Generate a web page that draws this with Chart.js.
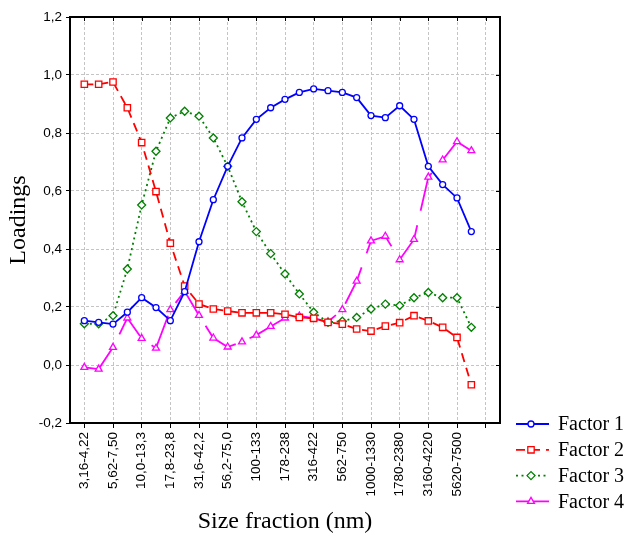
<!DOCTYPE html>
<html>
<head>
<meta charset="utf-8">
<script src="https://cdn.jsdelivr.net/npm/chart.js@4.4.1/dist/chart.umd.min.js"></script>
<style>
  html, body { margin: 0; padding: 0; background: #fff; }
  canvas { display: block; }
</style>
</head>
<body>
<canvas id="loadingsChart" width="628" height="536"></canvas>
<script>
// Classes granulométriques (nm)
const categories = [
    '3,16-4,22', '4,22-5,62', '5,62-7,50', '7,50-10,0', '10,0-13,3', '13,3-17,8',
    '17,8-23,8', '23,8-31,6', '31,6-42,2', '42,2-56,2', '56,2-75,0', '75,0-100',
    '100-133', '133-178', '178-238', '238-316', '316-422', '422-562',
    '562-750', '750-1000', '1000-1330', '1330-1780', '1780-2380', '2380-3160',
    '3160-4220', '4220-5620', '5620-7500', '7500-10000'
];

const factor1 = [0.153, 0.147, 0.141, 0.182, 0.232, 0.198, 0.153, 0.253, 0.425, 0.57, 0.685, 0.783, 0.847, 0.887,
                 0.916, 0.94, 0.952, 0.946, 0.94, 0.922, 0.86, 0.853, 0.894, 0.847, 0.685, 0.622, 0.576, 0.46];
const factor2 = [0.968, 0.968, 0.976, 0.887, 0.767, 0.598, 0.42, 0.272, 0.21, 0.193, 0.186, 0.18, 0.18, 0.18,
                 0.175, 0.164, 0.161, 0.147, 0.141, 0.124, 0.117, 0.134, 0.146, 0.17, 0.152, 0.13, 0.095, -0.068];
const factor3 = [0.142, 0.142, 0.17, 0.331, 0.552, 0.737, 0.852, 0.875, 0.858, 0.783, 0.685, 0.563, 0.46, 0.384,
                 0.314, 0.245, 0.182, 0.147, 0.151, 0.164, 0.193, 0.21, 0.205, 0.232, 0.25, 0.232, 0.232, 0.13];
const factor4 = [-0.008, -0.014, 0.061, 0.162, 0.092, 0.058, 0.191, 0.254, 0.171, 0.093, 0.062, 0.08, 0.103, 0.133,
                 0.162, 0.169, 0.162, 0.149, 0.191, 0.289, 0.428, 0.444, 0.363, 0.433, 0.648, 0.707, 0.77, 0.739];

const seriesLabels = ['Factor 1', 'Factor 2', 'Factor 3', 'Factor 4'];

const yTicks = [-0.2, 0, 0.2, 0.4, 0.6, 0.8, 1.0, 1.2];

function toPoints(values) {
    return values.map((v, i) => ({ x: i, y: v }));
}

function makeDataset(label, values, color, dash, style, radius) {
    return {
        label: label,
        data: toPoints(values),
        borderColor: color,
        borderWidth: 1.8,
        borderDash: dash,
        pointStyle: style,
        pointRadius: radius,
        pointBorderWidth: 1.3,
        pointBorderColor: color,
        pointBackgroundColor: '#fff',
        tension: 0,
        fill: false
    };
}

// Cadre haut / droite avec petites graduations vers l'intérieur
const framePlugin = {
    id: 'frame',
    afterDatasetsDraw(chart) {
        const { ctx, chartArea: a, scales } = chart;
        ctx.save();
        ctx.strokeStyle = '#000';
        ctx.lineWidth = 2;
        ctx.beginPath();
        ctx.moveTo(a.left, a.top);
        ctx.lineTo(a.right, a.top);
        ctx.lineTo(a.right, a.bottom);
        ctx.stroke();
        ctx.lineWidth = 1;
        ctx.beginPath();
        scales.y.ticks.forEach(t => {
            const y = Math.round(scales.y.getPixelForValue(t.value)) + 0.5;
            ctx.moveTo(a.right - 4, y);
            ctx.lineTo(a.right, y);
        });
        scales.x.ticks.forEach(t => {
            const x = Math.round(scales.x.getPixelForValue(t.value)) + 0.5;
            ctx.moveTo(x, a.top);
            ctx.lineTo(x, a.top + 4);
        });
        ctx.stroke();
        ctx.restore();
    }
};

// Légende dessinée à la main (trait + marqueur)
const legendPlugin = {
    id: 'sideLegend',
    afterDraw(chart) {
        const { ctx } = chart;
        const x0 = 516, x1 = 549, xm = 531, xt = 558;
        ctx.save();
        chart.data.datasets.forEach((ds, i) => {
            const y = 424 + i * 25.8;
            ctx.strokeStyle = ds.borderColor;
            ctx.lineWidth = ds.borderWidth;
            ctx.setLineDash(ds.borderDash || []);
            ctx.beginPath();
            ctx.moveTo(x0, y);
            ctx.lineTo(x1, y);
            ctx.stroke();
            ctx.setLineDash([]);
            ctx.fillStyle = '#fff';
            ctx.lineWidth = ds.pointBorderWidth;
            Chart.helpers.drawPoint(ctx, {
                pointStyle: ds.pointStyle, rotation: 0, radius: ds.pointRadius, borderWidth: ds.pointBorderWidth
            }, xm, y);
            ctx.fillStyle = '#000';
            ctx.font = '20px "Liberation Serif"';
            ctx.textBaseline = 'middle';
            ctx.textAlign = 'left';
            ctx.fillText(ds.label, xt, y + 1);
        });
        ctx.restore();
    }
};

const ctx = document.getElementById('loadingsChart').getContext('2d');
const chart = new Chart(ctx, {
    type: 'line',
    data: {
        datasets: [
            makeDataset(seriesLabels[0], factor1, '#0000ff', [], 'circle', 3),
            makeDataset(seriesLabels[1], factor2, '#ff0000', [9, 6], 'rect', 4.5),
            makeDataset(seriesLabels[2], factor3, '#008000', [2, 3.5], 'rectRot', 4),
            makeDataset(seriesLabels[3], factor4, '#ff00ff', [40, 15], 'triangle', 4)
        ]
    },
    options: {
        responsive: false,
        animation: false,
        layout: { padding: { top: 17, right: 128, left: 0, bottom: 0 } },
        plugins: {
            legend: { display: false },
            tooltip: { enabled: false }
        },
        scales: {
            x: {
                type: 'linear',
                min: -1,
                max: 29,
                afterBuildTicks: scale => {
                    const ticks = [];
                    for (let i = 0; i <= 28; i += 2) ticks.push({ value: i });
                    scale.ticks = ticks;
                },
                afterFit: scale => { scale.height = 113; },
                grid: {
                    color: '#c4c4c4',
                    lineWidth: 1,
                    drawTicks: true,
                    tickLength: 5,
                    tickColor: '#000',
                    tickWidth: 1
                },
                border: { color: '#000', width: 2, dash: [3, 2] },
                ticks: {
                    autoSkip: false,
                    minRotation: 90,
                    maxRotation: 90,
                    padding: 4,
                    color: '#000',
                    font: { family: '"Liberation Sans"', size: 13.5 },
                    callback: v => categories[v] !== undefined && v % 2 === 0 ? categories[v] : ''
                },
                title: {
                    display: true,
                    text: 'Size fraction (nm)',
                    color: '#000',
                    font: { family: '"Liberation Serif"', size: 24 },
                    padding: { top: 0, bottom: 0 }
                }
            },
            y: {
                min: -0.2,
                max: 1.2,
                afterBuildTicks: scale => {
                    scale.ticks = yTicks.map(v => ({ value: v }));
                },
                afterFit: scale => { scale.width = 70; },
                grid: {
                    color: '#c4c4c4',
                    lineWidth: 1,
                    tickLength: 4,
                    tickColor: '#000'
                },
                border: { color: '#000', width: 2, dash: [3, 2] },
                ticks: {
                    padding: 4,
                    color: '#000',
                    font: { family: '"Liberation Sans"', size: 13.5 },
                    callback: v => v.toFixed(1).replace('.', ',')
                },
                title: {
                    display: true,
                    text: 'Loadings',
                    color: '#000',
                    font: { family: '"Liberation Serif"', size: 24 },
                    padding: { top: 4, bottom: 0 }
                }
            }
        }
    },
    plugins: [framePlugin, legendPlugin]
});
</script>
</body>
</html>
